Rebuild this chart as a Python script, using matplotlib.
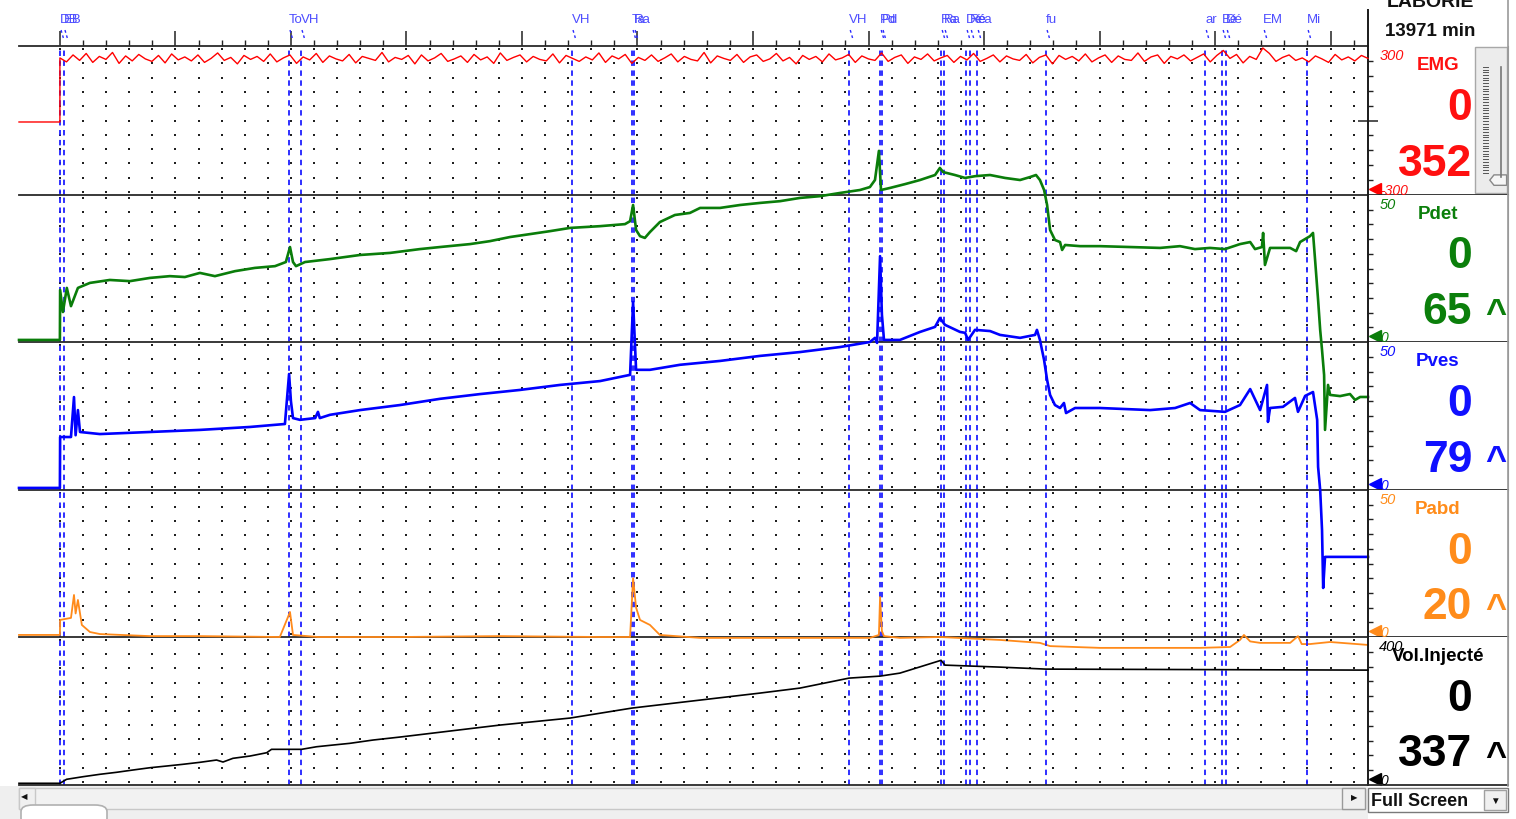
# -*- coding: utf-8 -*-
import matplotlib
matplotlib.use('Agg')
import matplotlib.pyplot as plt
import matplotlib.transforms as mtransforms
from matplotlib.patches import Rectangle, FancyBboxPatch, Polygon
from matplotlib.lines import Line2D
import numpy as np

plt.rcParams['font.family'] = ['Liberation Sans', 'DejaVu Sans']

# Каналы записи
names = ['EMG', 'Pdet', 'Pves', 'Pabd', 'Vol.Injecté']
trace_colors = ['#ff0000', '#0a7d0a', '#0000ff', '#ff8a1a', '#000000']
label_colors = ['#ff1010', '#0b7f0b', '#1010ff', '#ff8c1a', '#000000']
y_low = [-300, 0, 0, 0, 0]
y_high = [300, 50, 50, 50, 400]
current_vals = [0, 0, 0, 0, 0]
max_vals = [352, 65, 79, 20, 337]
show_caret = [False, True, True, True, True]

# Время, с
T_MIN, T_MAX = -17.7, 566.2

# EMG (мкВ), равномерная выборка после старта
emg_before = [-6, -6]
emg_vals = [
    252, 236, 264, 242, 270, 234, 258, 246, 274, 230, 260, 240, 266, 248, 238, 262, 232, 268, 244, 256,
    240, 264, 234, 250, 272, 242, 254, 228, 262, 246, 258, 238, 268, 236, 252, 264, 230, 256, 244, 270,
    234, 260, 248, 240, 266, 232, 258, 250, 242, 274, 236, 254, 246, 262, 228, 264, 240, 252, 270, 238,
    248, 260, 234, 266, 244, 256, 230, 272, 242, 254, 264, 236, 258, 246, 240, 268, 232, 262, 250, 238,
    256, 244, 272, 234, 260, 248, 266, 230, 254, 242, 264, 238, 252, 268, 236, 258, 246, 240, 274, 232,
    260, 250, 242, 266, 234, 256, 264, 238, 248, 270, 240, 254, 228, 262, 246, 258, 236, 268, 244, 252,
    266, 234, 260, 248, 242, 272, 238, 254, 264, 230, 256, 246, 268, 240, 252, 262, 234, 258, 244, 270,
    238, 250, 264, 236, 260, 248, 242, 266, 232, 254, 264, 228, 262, 246, 258, 240, 268, 236, 252, 264,
    234, 260, 246, 242, 272, 238, 256, 264, 230, 258, 248, 264, 240, 254, 268, 236, 262, 282, 250, 266,
    232, 258, 246, 292, 270, 238, 254, 264, 242, 252, 236, 260, 248, 234, 266, 244, 256, 240, 262, 250,
]

# Pdet, см H2O
pdet_t = [-17.7, 0.0, 0.1, 1.3, 3.0, 4.8, 7.8, 13.0, 21.6, 30.3, 39.0, 47.6, 54.1, 60.6, 67.1, 75.8,
          84.4, 93.1, 97.8, 99.6, 100.9, 102.2, 106.1, 116.9, 129.9, 142.9, 155.8, 164.5, 177.5, 186.1,
          194.8, 203.5, 212.1, 220.8, 233.8, 244.6, 246.8, 248.1, 249.4, 251.1, 253.2, 255.4, 259.7,
          266.2, 272.7, 277.1, 285.7, 294.4, 303.0, 311.7, 320.3, 329.0, 337.7, 346.3, 350.6, 352.8,
          354.5, 355.4, 359.3, 365.8, 372.3, 378.8, 380.9, 382.3, 387.4, 391.8, 396.1, 402.6, 409.1,
          415.6, 419.9, 422.5, 424.2, 426.0, 427.3, 428.6, 430.7, 432.9, 433.8, 435.1, 441.6, 450.2,
          463.2, 476.2, 484.8, 491.3, 497.8, 504.3, 510.8, 515.2, 517.3, 520.3, 520.8, 521.6, 523.8,
          532.5, 535.1, 536.8, 541.1, 542.4, 543.3, 544.6, 545.5, 546.3, 547.2, 547.6, 548.9, 549.8,
          554.1, 558.4, 560.6, 562.8, 566.2]
pdet_v = [0.7, 0.7, 17.7, 10.2, 18.4, 12.2, 18.4, 20.1, 21.1, 20.7, 21.8, 22.4, 22.1, 23.5, 22.4, 24.1,
          25.2, 25.8, 27.2, 32.3, 27.2, 25.8, 27.2, 28.2, 29.6, 30.3, 31.6, 32.3, 33.3, 34.3,
          35.7, 36.7, 37.7, 38.8, 39.4, 40.1, 41.1, 46.6, 38.1, 36.0, 35.4, 37.4, 40.8,
          43.2, 43.9, 45.6, 45.6, 46.6, 47.3, 47.9, 49.0, 49.6, 50.7, 51.7, 52.7, 55.1,
          65.0, 51.7, 52.4, 53.7, 55.1, 56.8, 59.2, 57.8, 56.8, 55.8, 56.4, 56.8, 55.8,
          55.1, 56.1, 56.8, 55.1, 51.7, 46.6, 38.1, 34.7, 34.0, 31.3, 33.0, 32.6, 32.6,
          32.3, 32.0, 32.6, 31.6, 32.0, 31.6, 33.3, 34.0, 31.6, 32.3, 37.1, 26.2, 32.0,
          32.0, 30.9, 34.0, 36.0, 37.1, 27.9, 14.3, 4.1, -2.7, -11.2, -29.9, -14.6, -18.0,
          -18.4, -17.7, -19.7, -18.7, -18.7]

# Pves, см H2O
pves_t = [-17.7, 0.0, 0.1, 4.8, 6.1, 6.8, 7.8, 8.7, 17.3, 39.0, 60.6, 82.3, 97.4, 99.2, 100.0, 100.9,
          103.9, 110.5, 111.7, 112.5, 116.9, 129.9, 147.2, 164.5, 181.8, 199.1, 216.5, 233.8, 246.8,
          248.1, 249.4, 255.4, 268.4, 285.7, 303.0, 320.3, 337.7, 350.6, 352.8, 353.7, 355.0, 355.8,
          356.7, 363.6, 372.3, 378.8, 380.9, 383.1, 389.6, 391.8, 393.1, 396.1, 402.6, 406.9, 415.6,
          422.1, 422.9, 424.2, 426.0, 427.3, 428.6, 430.7, 432.9, 434.6, 435.5, 439.4, 450.2, 471.9,
          482.7, 489.2, 493.5, 504.3, 510.8, 515.2, 519.5, 522.5, 522.9, 523.8, 529.4, 534.6, 535.9,
          539.0, 542.4, 544.2, 544.6, 545.5, 546.3, 546.8, 547.6, 548.9, 566.2]
pves_v = [0.7, 0.7, 17.9, 17.9, 31.4, 18.5, 27.0, 19.6, 18.9, 19.6, 20.3, 21.3, 22.3, 39.2, 30.0, 24.3,
          23.7, 24.3, 26.4, 24.3, 25.4, 27.0, 28.7, 30.8, 32.4, 33.8, 35.5, 36.8, 38.9,
          63.5, 40.6, 40.6, 42.3, 43.6, 45.3, 46.6, 48.3, 50.0, 51.4, 49.7, 79.0, 59.2,
          50.7, 50.7, 53.4, 55.1, 58.1, 55.8, 53.4, 53.1, 50.7, 54.1, 53.7, 52.4, 51.4,
          52.4, 54.1, 50.7, 43.9, 37.2, 32.1, 28.7, 27.7, 29.4, 26.0, 27.7, 27.7, 27.0,
          27.7, 29.4, 27.0, 26.4, 28.7, 34.1, 27.0, 35.5, 23.0, 27.7, 28.1, 31.1, 26.4,
          31.8, 33.1, 23.7, 7.8, 0.0, -13.5, -33.1, -22.6, -22.6, -22.6]

# Pabd, см H2O
pabd_t = [-17.7, 0.0, 0.1, 4.8, 6.1, 6.8, 7.8, 9.5, 13.0, 17.3, 39.0, 60.6, 95.2, 99.6, 100.9, 111.7,
          147.2, 190.0, 233.8, 246.8, 248.1, 249.4, 251.1, 255.4, 259.7, 277.1, 320.3, 350.6, 354.5,
          355.0, 355.8, 356.7, 363.6, 380.9, 406.9, 424.2, 428.6, 450.2, 493.5, 506.5, 510.8, 512.5,
          515.2, 519.5, 532.5, 535.9, 537.5, 541.1, 549.8, 566.2]
pabd_v = [0.7, 0.7, 5.8, 6.5, 14.3, 8.0, 12.6, 4.1, 1.7, 1.0, 0.3, 0.3, 0.0, 8.5, 0.7, 0.0,
          0.0, 0.3, 0.0, 0.0, 20.0, 10.0, 5.8, 4.1, 0.7, -0.3, -0.3, -0.3, 0.7,
          13.6, 2.0, 0.3, -0.3, 0.0, -1.0, -2.0, -3.1, -3.7, -3.7, -3.4, -1.0, 0.7,
          -1.5, -2.0, -2.0, 0.3, -2.4, -2.4, -1.7, -2.7]

# Введённый объём, мл
vol_t = [-17.7, 0.0, 2.9, 10.0, 17.3, 24.5, 31.6, 39.0, 46.2, 53.2, 60.6, 67.8, 70.6, 74.9, 82.3,
         89.5, 91.6, 104.6, 111.1, 118.2, 125.5, 135.5, 147.2, 168.8, 190.5, 220.8, 247.6, 277.1,
         303.0, 320.3, 341.6, 355.0, 363.6, 381.4, 383.1, 406.9, 426.8, 566.2]
vol_v = [4.6, 4.6, 15.4, 22.4, 28.9, 34.3, 40.5, 46.7, 51.3, 55.9, 61.3, 67.5, 62.1, 72.1, 78.3,
         87.2, 96.4, 96.4, 103.4, 108.0, 112.6, 121.5, 129.6, 145.8, 162.0, 180.9, 207.9, 229.5,
         248.4, 261.9, 288.9, 294.3, 302.4, 337.0, 324.0, 318.6, 313.2, 310.5]

# Метки событий
event_t = [0.0, 1.7, 99.1, 104.3, 221.6, 247.6, 248.5, 341.6, 355.0, 355.8, 381.4, 382.7,
           392.2, 394.0, 397.0, 426.8, 495.7, 503.0, 504.8, 539.8]
event_lab = ['DB', 'EB', 'To', 'VH', 'VH', 'Ta', 'Ra', 'VH', 'Pd', 'Pd', 'Ra', 'Ra',
             'Dé', 'Ré', 'éa', 'fu', 'ar', 'Bé', 'Dé', 'Mi']
mark_t = [520.8]
mark_lab = ['EM']

W, H = 1516, 819
bounds = [46, 195, 342, 490, 637, 785]


def px_box(x0, y0, x1, y1):
    """Прямоугольник в пикселях -> координаты фигуры [left, bottom, width, height]"""
    return [x0 / W, 1 - y1 / H, (x1 - x0) / W, (y1 - y0) / H]


def rect_px(fig, x0, y0, x1, y1, **kw):
    r = Rectangle((x0 / W, 1 - y1 / H), (x1 - x0) / W, (y1 - y0) / H,
                  transform=fig.transFigure, **kw)
    fig.add_artist(r)
    return r


def vline_px(fig, x, y0, y1, **kw):
    fig.add_artist(Line2D([x / W, x / W], [1 - y0 / H, 1 - y1 / H], transform=fig.transFigure, **kw))


fig = plt.figure(figsize=(W / 100, H / 100), dpi=100)
fig.patch.set_facecolor('white')

emg_t = np.concatenate([[T_MIN, 0.0], np.linspace(0.0, T_MAX, len(emg_vals))])
emg_v = emg_before + emg_vals
traces = [(emg_t, emg_v), (pdet_t, pdet_v), (pves_t, pves_v), (pabd_t, pabd_v), (vol_t, vol_v)]
widths = [1.0, 1.9, 1.9, 1.3, 1.2]

axes = []
for i in range(5):
    top, bot = bounds[i], bounds[i + 1]
    ax = fig.add_axes(px_box(19, top, 1368, bot))
    ax.set_facecolor('none')
    ax.set_xlim(T_MIN, T_MAX)
    lo, hi = y_low[i], y_high[i]
    ax.set_ylim(lo, hi)
    ax.spines['left'].set_visible(False)
    ax.spines['top'].set_visible(i == 0)
    for s in ['top', 'bottom']:
        ax.spines[s].set_color('#2a2a2a')
        ax.spines[s].set_linewidth(1.3)
    ax.spines['right'].set_color('#1a1a1a')
    ax.spines['right'].set_linewidth(1.4)

    # шкала времени сверху
    if i == 0:
        ax.xaxis.set_ticks_position('top')
        ax.set_xticks(np.arange(0, 551, 50))
        ax.set_xticks(np.arange(0, 561, 10), minor=True)
        ax.tick_params(axis='x', which='major', length=10.8, width=1.1, color='#222222',
                       direction='out', labeltop=False, labelbottom=False)
        ax.tick_params(axis='x', which='minor', length=4.3, width=1.0, color='#222222',
                       direction='out')
    else:
        ax.set_xticks([])
        ax.tick_params(axis='x', which='both', bottom=False, top=False, labelbottom=False)

    # засечки справа
    ax.yaxis.set_ticks_position('right')
    minors = [lo + (hi - lo) * k / 10 for k in range(1, 10)]
    if i == 0:
        ax.set_yticks([0])
        minors = [m for m in minors if abs(m) > 1e-9]
    else:
        ax.set_yticks([])
    ax.set_yticks(minors, minor=True)
    ax.tick_params(axis='y', which='minor', length=3.6, width=1.0, color='#222222',
                   direction='out', labelright=False, labelleft=False)
    ax.tick_params(axis='y', which='major', length=14, width=1.1, color='#222222',
                   direction='inout', labelright=False, labelleft=False)

    blend = mtransforms.blended_transform_factory(ax.transData, ax.transAxes)
    # точечная сетка
    gx, gy = np.meshgrid(np.arange(0, 561, 10), np.linspace(0.02, 0.98, 11))
    ax.scatter(gx.ravel(), gy.ravel(), s=1.4, c='#202020', marker='s', linewidths=0,
               transform=blend, zorder=1)
    # вертикали событий
    for t in event_t:
        ax.axvline(t, color='#1f1fff', lw=1.3, ls=(0, (3, 2.5)), zorder=2)
    t, v = traces[i]
    ax.plot(t, v, color=trace_colors[i], lw=widths[i], zorder=3, clip_on=False)
    axes.append(ax)

# подписи событий над графиком
ax0 = axes[0]
blend0 = mtransforms.blended_transform_factory(ax0.transData, ax0.transAxes)
for t, lab in list(zip(event_t, event_lab)) + list(zip(mark_t, mark_lab)):
    ax0.text(t, 1.174, lab, transform=blend0, ha='left', va='center', fontsize=9.5,
             color='#4d4dff', clip_on=False)
    ax0.plot([t + 0.5, t + 1.5], [1.107, 1.054], transform=blend0, color='#2a2aff', lw=1.0,
             ls=(0, (2, 2)), clip_on=False)

# правая панель с показаниями
for i in range(5):
    top, bot = bounds[i], bounds[i + 1]
    side = fig.add_axes(px_box(1368, top, 1508, bot))
    side.set_xlim(0, 1)
    side.set_ylim(0, 1)
    side.set_xticks([])
    side.set_yticks([])
    side.set_facecolor('white')
    side.set_zorder(-1)
    for s in ['left', 'top']:
        side.spines[s].set_visible(False)
    side.spines['right'].set_color('#9a9a9a')
    side.spines['bottom'].set_color('#2a2a2a')
    side.spines['bottom'].set_linewidth(1.3)
    c = label_colors[i]
    side.text(0.08, 0.93, str(y_high[i]), style='italic', fontsize=10.5, color=c,
              ha='left', va='center')
    side.text(0.09, 0.03, str(y_low[i]), style='italic', fontsize=10, color=c,
              ha='left', va='center', clip_on=True)
    side.plot(0.05, 0.04, marker='<', ms=8, color=trace_colors[i], clip_on=False)
    side.text(0.5, 0.87, names[i], ha='center', va='center', fontsize=13.5,
              fontweight='bold', color=c)
    side.text(0.745, 0.50, str(current_vals[i]), ha='right', va='baseline', fontsize=32,
              fontweight='bold', color=c)
    side.text(0.745, 0.125, str(max_vals[i]), ha='right', va='baseline', fontsize=32,
              fontweight='bold', color=c)
    if show_caret[i]:
        side.text(0.835, 0.125, '^', ha='left', va='baseline', fontsize=26,
                  fontweight='bold', color=c)
    if i == 0:
        # полоса прокрутки усиления
        side.add_patch(Rectangle((0.764, 0.013), 0.229, 0.98, fc='#ececec', ec='#a8a8a8', lw=1))
        for yy in np.linspace(0.15, 0.86, 40):
            side.plot([0.82, 0.86], [yy, yy], color='#555555', lw=0.7)
        side.plot([0.95, 0.95], [0.12, 0.86], color='#777777', lw=1.2)
        side.add_patch(Polygon([(0.87, 0.10), (0.90, 0.135), (0.99, 0.135), (0.99, 0.065),
                                (0.90, 0.065)], closed=True, fc='#f6f6f6', ec='#888888', lw=1))

# шапка справа
vline_px(fig, 1368, 10, 46, color='#1a1a1a', lw=1.4)
vline_px(fig, 1508, 0, 786, color='#9a9a9a', lw=1.2)
fig.text(1430 / W, 1 - 7 / H, 'LABORIE', ha='center', va='baseline', fontsize=14,
         fontweight='bold', color='#111111')
fig.text(1430 / W, 1 - 36 / H, '13971 min', ha='center', va='baseline', fontsize=13.5,
         fontweight='bold', color='#111111')

# нижняя панель с прокруткой
rect_px(fig, 0, 786, 1368, 819, fc='#efefef', ec='none', zorder=0)
rect_px(fig, 19, 788, 1365, 809, fc='#f2f2f2', ec='#c8c8c8', lw=1)
rect_px(fig, 19, 788, 35, 809, fc='#f0f0f0', ec='#c8c8c8', lw=1)
rect_px(fig, 1342, 788, 1365, 809, fc='#f0f0f0', ec='#9a9a9a', lw=1)
fig.text(24 / W, 1 - 798 / H, '◀', fontsize=6, ha='center', va='center', color='#111111')
fig.text(1354 / W, 1 - 799 / H, '▶', fontsize=6, ha='center', va='center', color='#111111')
tab = FancyBboxPatch((21 / W, 1 - 825 / H), 86 / W, 20 / H,
                     boxstyle='round,pad=0,rounding_size=0.008', transform=fig.transFigure,
                     fc='white', ec='#b0b0b0', lw=1.2)
fig.add_artist(tab)
rect_px(fig, 1368, 788, 1508, 812, fc='white', ec='#7a7a7a', lw=1)
fig.text(1371 / W, 1 - 801 / H, 'Full Screen', ha='left', va='center', fontsize=13,
         fontweight='bold', color='#111111')
rect_px(fig, 1484, 790, 1506, 810, fc='#f0f0f0', ec='#a0a0a0', lw=1)
fig.text(1495 / W, 1 - 801 / H, '▼', fontsize=7, ha='center', va='center', color='#111111')

plt.savefig('out.png', dpi=100)
